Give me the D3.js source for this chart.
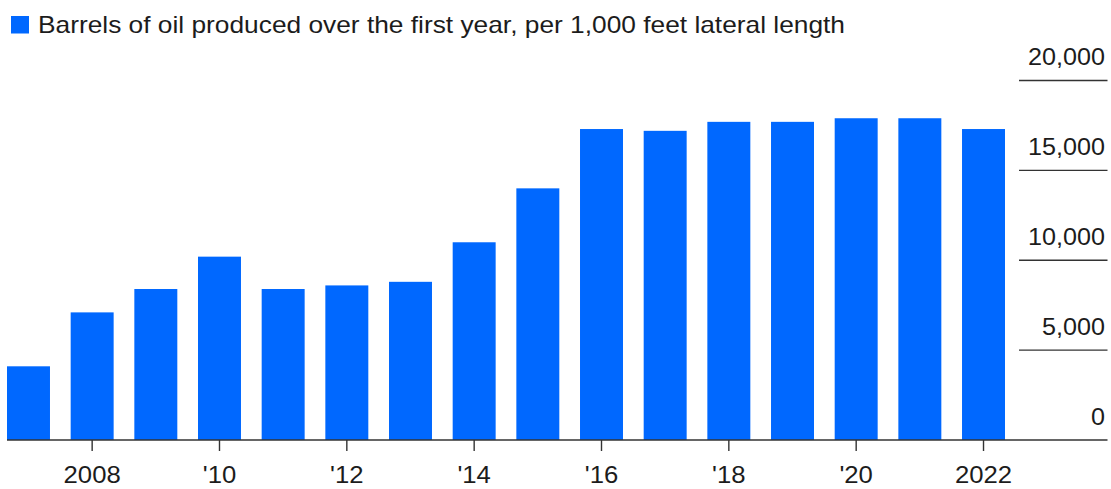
<!DOCTYPE html>
<html>
<head>
<meta charset="utf-8">
<script src="https://cdn.jsdelivr.net/npm/d3@7"></script>
<style>
  html, body { margin: 0; padding: 0; background: #fff; }
  svg { display: block; font-family: "Liberation Sans", Arial, Helvetica, sans-serif; }
</style>
</head>
<body>
<svg id="chart" width="1111" height="489"></svg>
<script>
// Oil output per well: first-year barrels per 1,000 ft of lateral length
const years = [2007, 2008, 2009, 2010, 2011, 2012, 2013, 2014, 2015, 2016, 2017, 2018, 2019, 2020, 2021, 2022];
const barrels = [4100, 7100, 8400, 10200, 8400, 8600, 8800, 11000, 14000, 17300, 17200, 17700, 17700, 17900, 17900, 17300];
const yTicks = [0, 5000, 10000, 15000, 20000];
const xTickYears = [2008, 2010, 2012, 2014, 2016, 2018, 2020, 2022];
const xTickLabels = ["2008", "'10", "'12", "'14", "'16", "'18", "'20", "2022"];
const legendLabel = "Barrels of oil produced over the first year, per 1,000 feet lateral length";

const blue = "#0068ff";
const ink = "#1c1c1c";
const rule = "#333333";

const svg = d3.select("#chart");

const x = d3.scaleBand()
  .domain(years)
  .range([7, 1005])
  .paddingInner(0.325)
  .paddingOuter(0);

const y = d3.scaleLinear()
  .domain([0, 20000])
  .range([440, 80.5]);

// Legend
svg.append("rect")
  .attr("x", 11).attr("y", 16)
  .attr("width", 18).attr("height", 17.5)
  .attr("fill", blue);

svg.append("text")
  .attr("x", 38).attr("y", 33)
  .attr("font-size", 24)
  .attr("fill", ink)
  .attr("textLength", 807)
  .attr("lengthAdjust", "spacingAndGlyphs")
  .text(legendLabel);

// Bars
svg.append("g")
  .selectAll("rect")
  .data(years.map((yr, i) => ({ yr, v: barrels[i] })))
  .join("rect")
  .attr("x", d => x(d.yr))
  .attr("width", x.bandwidth())
  .attr("y", d => y(d.v))
  .attr("height", d => y(0) - y(d.v))
  .attr("fill", blue);

// Right-hand value scale: short rules with labels sitting above them
const yAxis = svg.append("g");
yAxis.selectAll("line")
  .data(yTicks.filter(t => t > 0))
  .join("line")
  .attr("x1", 1019).attr("x2", 1107.5)
  .attr("y1", d => y(d)).attr("y2", d => y(d))
  .attr("stroke", rule)
  .attr("stroke-width", 1.4);

yAxis.selectAll("text")
  .data(yTicks)
  .join("text")
  .attr("x", 1105)
  .attr("y", d => y(d) - 15.5)
  .attr("text-anchor", "end")
  .attr("font-size", 23.5)
  .attr("fill", ink)
  .text(d => d3.format(",")(d))
  .each(function () {
    const w = this.getComputedTextLength();
    d3.select(this).attr("textLength", w * 1.07).attr("lengthAdjust", "spacingAndGlyphs");
  });

// Baseline
svg.append("line")
  .attr("x1", 7).attr("x2", 1107.5)
  .attr("y1", y(0)).attr("y2", y(0))
  .attr("stroke", rule)
  .attr("stroke-width", 1.4);

// Year ticks and labels
const xAxis = svg.append("g");
xAxis.selectAll("line")
  .data(xTickYears)
  .join("line")
  .attr("x1", d => x(d) + x.bandwidth() / 2)
  .attr("x2", d => x(d) + x.bandwidth() / 2)
  .attr("y1", y(0)).attr("y2", 451)
  .attr("stroke", rule)
  .attr("stroke-width", 1.4);

xAxis.selectAll("text")
  .data(xTickYears)
  .join("text")
  .attr("x", d => x(d) + x.bandwidth() / 2)
  .attr("y", 483)
  .attr("text-anchor", "middle")
  .attr("font-size", 24)
  .attr("fill", ink)
  .text((d, i) => xTickLabels[i])
  .each(function () {
    const w = this.getComputedTextLength();
    d3.select(this).attr("textLength", w * 1.07).attr("lengthAdjust", "spacingAndGlyphs");
  });
</script>
</body>
</html>
